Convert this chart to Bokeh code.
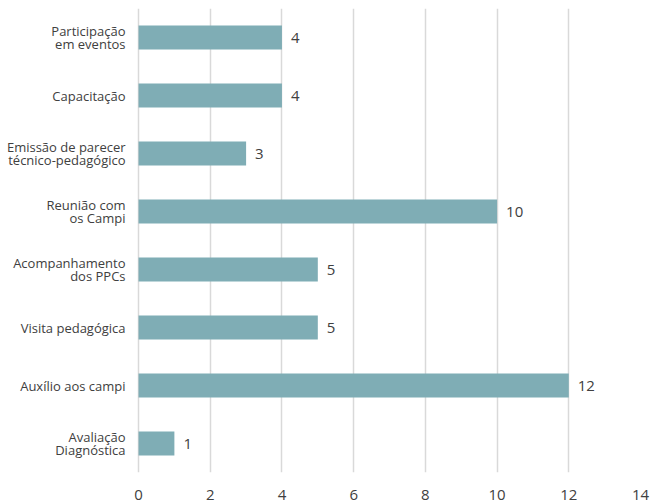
from bokeh.plotting import figure
from bokeh.models import ColumnDataSource, FactorRange, Range1d, FixedTicker
from bokeh.core.properties import value
from bokeh.embed import file_html
from bokeh.resources import INLINE

categories = [
    "Participação\nem eventos",
    "Capacitação",
    "Emissão de parecer\ntécnico-pedagógico",
    "Reunião com\nos Campi",
    "Acompanhamento\ndos PPCs",
    "Visita pedagógica",
    "Auxílio aos campi",
    "Avaliação\nDiagnóstica",
]
values = [4, 4, 3, 10, 5, 5, 12, 1]
x_ticks = [0, 2, 4, 6, 8, 10, 12, 14]

FONT = "Open Sans"
TEXT_COLOR = "#404040"

src = ColumnDataSource(dict(cat=categories, val=values, lbl=[str(v) for v in values]))

# one row per label line, so that every line is right-aligned
line_cat, line_txt, line_off, line_x = [], [], [], []
for cat in categories:
    lines = cat.split("\n")
    n = len(lines)
    for i, line in enumerate(lines):
        line_cat.append(cat)
        line_txt.append(line)
        line_off.append((i - (n - 1) / 2) * 13)
        line_x.append(0)
lab_src = ColumnDataSource(dict(cat=line_cat, txt=line_txt, off=line_off, x=line_x))

factors = list(reversed(categories))
p = figure(
    width=652, height=502,
    y_range=FactorRange(factors=factors),
    x_range=Range1d(-3.85, 14),
    output_backend="svg", toolbar_location=None,
    min_border_left=0, min_border_right=12, min_border_top=8, min_border_bottom=27,
)
p.outline_line_color = None
p.background_fill_color = "white"
p.border_fill_color = "white"

p.hbar(y="cat", right="val", left=0, height=0.41, source=src,
       fill_color="#7fadb5", line_color=None)

p.text(x="val", y="cat", text="lbl", source=src, x_offset=9,
       text_align="left", text_baseline="middle",
       text_font=value(FONT), text_font_size="15px", text_color=TEXT_COLOR)

p.text(x="x", y="cat", text="txt", source=lab_src, x_offset=-13, y_offset="off",
       text_align="right", text_baseline="middle",
       text_font=value(FONT), text_font_size="13px", text_color=TEXT_COLOR)

p.xaxis.ticker = FixedTicker(ticks=x_ticks)
p.xaxis.axis_line_color = None
p.xaxis.major_tick_line_color = None
p.xaxis.minor_tick_line_color = None
p.xaxis.major_label_text_font = FONT
p.xaxis.major_label_text_font_size = "15px"
p.xaxis.major_label_text_color = TEXT_COLOR
p.xaxis.major_label_standoff = 11

p.yaxis.visible = False

p.xgrid.grid_line_color = "#d9d9d9"
p.xgrid.grid_line_width = 1.5
p.ygrid.grid_line_color = None

open("out.html", "w").write(file_html(p, INLINE))
